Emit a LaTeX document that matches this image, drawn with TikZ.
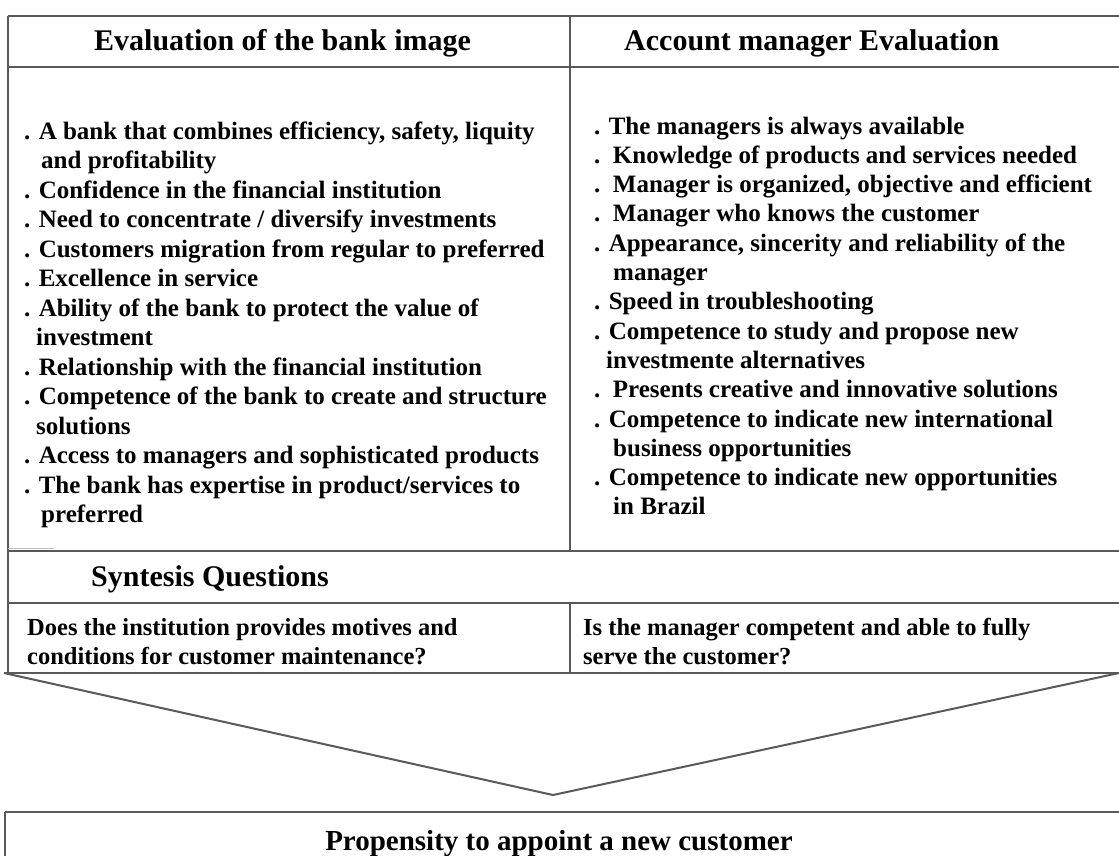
\documentclass[tikz,border=0pt]{standalone}
\usepackage{fontspec}
\setmainfont{Liberation Serif}
\begin{document}
\begin{tikzpicture}[x=1pt,y=-1pt,
  rule/.style={line width=2pt, draw=black!65},
  faint/.style={line width=1.2pt, draw=black!25},
  head/.style={anchor=base west, inner sep=0pt, font=\fontsize{30}{36}\selectfont\bfseries},
  item/.style={anchor=base west, inner sep=0pt, font=\fontsize{25}{30}\selectfont\bfseries},
  quest/.style={anchor=base west, inner sep=0pt, font=\fontsize{24.5}{29}\selectfont\bfseries},
  result/.style={anchor=base, inner sep=0pt, font=\fontsize{29}{34}\selectfont\bfseries}]
\useasboundingbox (0,0) rectangle (1119,855);

% table frame
\coordinate (tl) at (8,16);     \coordinate (tr) at (1119,16);
\coordinate (hl) at (8,67);     \coordinate (hr) at (1119,67);
\coordinate (sl) at (8,551);    \coordinate (sr) at (1119,551);
\coordinate (ql) at (8,603);    \coordinate (qr) at (1119,603);
\coordinate (bl) at (4,673);    \coordinate (br) at (1119,673);
\coordinate (bl0) at (8,673);
\coordinate (dt) at (570,16);   \coordinate (db) at (570,551);
\coordinate (qt) at (570,603);  \coordinate (qb) at (570,673);
\coordinate (apex) at (553,795);
\coordinate (rl) at (5,812);    \coordinate (rr) at (1119,812);
\coordinate (rb) at (5,860);

\draw[rule] (tl) -- (tr);
\draw[rule] (hl) -- (hr);
\draw[rule] (sl) -- (sr);
\draw[rule] (ql) -- (qr);
\draw[rule] (bl) -- (br);
\draw[rule] (tl) -- (bl0);
\draw[rule] (dt) -- (db);
\draw[rule] (qt) -- (qb);
\draw[faint] (8,548.5) -- (54,548.5);

% funnel towards the result box
\draw[rule, line join=miter] (bl) -- (apex) -- (br);

% result box
\draw[rule] (rl) -- (rr);
\draw[rule] (rl) -- (rb);

% column headers
\node[head] (h1) at (94,50) {Evaluation of the bank image};
\node[head] (h2) at (624,50) {Account manager Evaluation};

% bank image criteria
\node[item] (l1)  at (24,139)   {. A bank that combines efficiency, safety, liquity};
\node[item] (l2)  at (41,168.5) {and profitability};
\node[item] (l3)  at (24,198)   {. Confidence in the financial institution};
\node[item] (l4)  at (24,227.5) {. Need to concentrate / diversify investments};
\node[item] (l5)  at (24,257)   {. Customers migration from regular to preferred};
\node[item] (l6)  at (24,286.5) {. Excellence in service};
\node[item] (l7)  at (24,316)   {. Ability of the bank to protect the value of};
\node[item] (l8)  at (36,345.5) {investment};
\node[item] (l9)  at (24,375)   {. Relationship with the financial institution};
\node[item] (l10) at (24,404.5) {. Competence of the bank to create and structure};
\node[item] (l11) at (36,434)   {solutions};
\node[item] (l12) at (24,463.5) {. Access to managers and sophisticated products};
\node[item] (l13) at (24,493)   {. The bank has expertise in product/services to};
\node[item] (l14) at (41,522.5) {preferred};

% account manager criteria
\node[item] (r1)  at (594,134)   {. The managers is always available};
\node[item] (r2)  at (594,163.3) {.\ \ Knowledge of products and services needed};
\node[item] (r3)  at (594,192.6) {.\ \ Manager is organized, objective and efficient};
\node[item] (r4)  at (594,221.9) {.\ \ Manager who knows the customer};
\node[item] (r5)  at (594,251.2) {. Appearance, sincerity and reliability of the};
\node[item] (r6)  at (613,280.5) {manager};
\node[item] (r7)  at (594,309.8) {. Speed in troubleshooting};
\node[item] (r8)  at (594,339.1) {. Competence to study and propose new};
\node[item] (r9)  at (606,368.4) {investmente alternatives};
\node[item] (r10) at (594,397.7) {.\ \ Presents creative and innovative solutions};
\node[item] (r11) at (594,427)   {. Competence to indicate new international};
\node[item] (r12) at (613,456.3) {business opportunities};
\node[item] (r13) at (594,485.6) {. Competence to indicate new opportunities};
\node[item] (r14) at (613,514.9) {in Brazil};

% synthesis
\node[head] (syn) at (91,586) {Syntesis Questions};
\node[quest] (q1a) at (27,635)  {Does the institution provides motives and};
\node[quest] (q1b) at (27,664)  {conditions for customer maintenance?};
\node[quest] (q2a) at (583,635) {Is the manager competent and able to fully};
\node[quest] (q2b) at (583,664) {serve the customer?};

% outcome
\node[result] (res) at (559,850) {Propensity to appoint a new customer};
\end{tikzpicture}
\end{document}
